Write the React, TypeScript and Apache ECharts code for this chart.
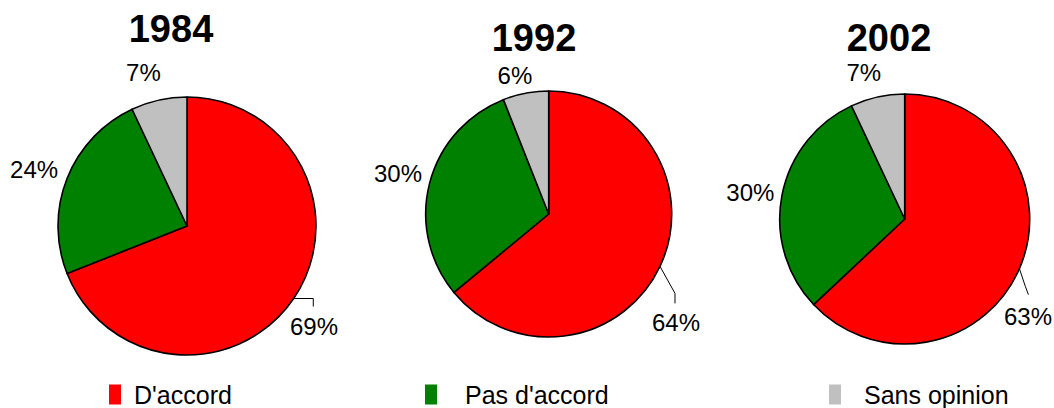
import React, { useEffect, useRef } from 'react';
import * as echarts from 'echarts';

// ---- data ----
const YEARS = ['1984', '1992', '2002'];
const CATEGORIES = ["D'accord", "Pas d'accord", 'Sans opinion'];
const VALUES_1984 = [69, 24, 7];
const VALUES_1992 = [64, 30, 6];
const VALUES_2002 = [63, 30, 7];
const SERIES_VALUES = [VALUES_1984, VALUES_1992, VALUES_2002];

// ---- styles / layout ----
const COLORS = ['#FF0000', '#008000', '#C0C0C0'];
const FONT = '"Liberation Sans", Arial, Helvetica, sans-serif';
const PIE_CENTERS = [[187, 226], [548.7, 214], [904.7, 219]];
const PIE_RADII = [129, 123, 125];
const TITLE_POS = [[171, 28.5], [534, 37.5], [889, 37.5]];
// label centre offsets from the slice's outer mid point
const LABEL_OFFSETS = [
  [[20.3, 27.8], [-33, -9.5], [-15.4, -28]],
  [[16, 56.6], [-31.6, -9.7], [-10.7, -17.4]],
  [[8.6, 47.4], [-31.6, -3.1], [-13.6, -24.8]],
];
// leader line bends, relative to the slice's outer mid point
const LEADERS = [
  [[19.6, 0], [19.6, 8]],
  [[15, 27], [15, 37]],
  [[6, 18], [9, 26]],
];
const LEGEND_LEFT = [109, 425, 829];
const LEGEND_TEXT_PAD = [8, 23, 18];

function midPoint(s: number, i: number) {
  const vals = SERIES_VALUES[s];
  const total = vals.reduce((a, b) => a + b, 0);
  let before = 0;
  for (let j = 0; j < i; j++) before += vals[j];
  const mid = ((before + vals[i] / 2) / total) * Math.PI * 2;
  const [cx, cy] = PIE_CENTERS[s];
  const r = PIE_RADII[s];
  return [cx + r * Math.sin(mid), cy - r * Math.cos(mid)];
}

export default function App() {
  const ref = useRef<HTMLDivElement>(null);
  useEffect(() => {
    if (!ref.current) return;
    const chart = echarts.init(ref.current, null, { renderer: 'svg' });
    const series = SERIES_VALUES.map((vals, s) => ({
      type: 'pie',
      center: PIE_CENTERS[s],
      radius: PIE_RADII[s],
      startAngle: 90,
      clockwise: true,
      avoidLabelOverlap: false,
      emphasis: { disabled: true },
      itemStyle: { borderColor: '#000', borderWidth: 1.6 },
      label: {
        show: true,
        position: 'outside',
        formatter: '{c}%',
        fontSize: 24,
        fontFamily: FONT,
        color: '#000',
      },
      labelLine: { show: false },
      labelLayout: (p: any) => {
        const si = p.seriesIndex;
        const di = p.dataIndex;
        const [ex, ey] = midPoint(si, di);
        const [ox, oy] = LABEL_OFFSETS[si][di];
        const out: any = { x: ex + ox, y: ey + oy, align: 'center', verticalAlign: 'middle' };
        if (di === 0) {
          const L = LEADERS[si];
          out.labelLinePoints = [[ex, ey], [ex + L[0][0], ey + L[0][1]], [ex + L[1][0], ey + L[1][1]]];
        }
        return out;
      },
      data: vals.map((v, i) => ({
        name: CATEGORIES[i],
        value: v,
        itemStyle: { color: COLORS[i] },
        labelLine:
          i === 0
            ? { show: true, length: 10, length2: 10, lineStyle: { color: '#000', width: 1 } }
            : { show: false },
      })),
    }));
    chart.setOption({
      animation: false,
      backgroundColor: '#fff',
      legend: LEGEND_LEFT.map((left, k) => ({
        data: [CATEGORIES[k]],
        left,
        top: 382,
        padding: 0,
        itemWidth: 12,
        itemHeight: 20,
        icon: 'rect',
        selectedMode: false,
        itemStyle: { borderWidth: 0 },
        textStyle: { fontSize: 25, fontFamily: FONT, color: '#000', padding: [0, 0, 0, LEGEND_TEXT_PAD[k]] },
      })),
      graphic: YEARS.map((y, k) => ({
        type: 'text',
        x: TITLE_POS[k][0],
        y: TITLE_POS[k][1],
        style: {
          text: y,
          fontSize: 38,
          fontWeight: 'bold',
          fontFamily: FONT,
          fill: '#000',
          align: 'center',
          verticalAlign: 'middle',
        },
      })),
      series,
    });
    return () => chart.dispose();
  }, []);
  return (
    <div
      ref={ref}
      style={{ position: 'absolute', left: 0, top: 0, width: 1054, height: 408 }}
    />
  );
}
